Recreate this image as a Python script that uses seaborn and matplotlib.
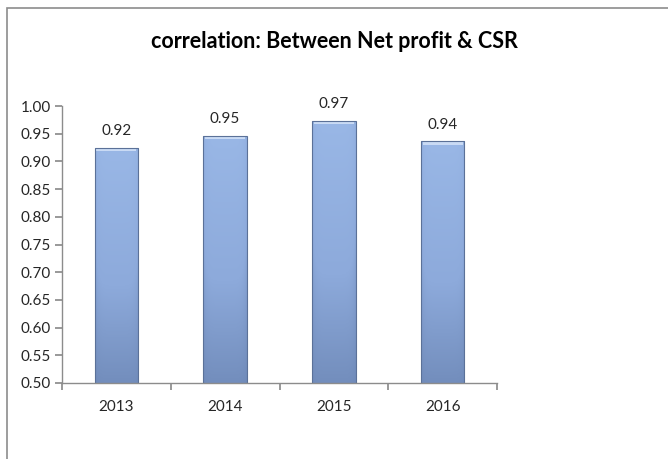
import numpy as np
import pandas as pd
import matplotlib
matplotlib.use("Agg")
import matplotlib.pyplot as plt
import matplotlib.ticker as mticker
from matplotlib.colors import LinearSegmentedColormap
from matplotlib.patches import Rectangle
import seaborn as sns

# data
years = ["2013", "2014", "2015", "2016"]
corr_values = [0.924, 0.946, 0.973, 0.936]

TITLE = "correlation: Between Net profit & CSR"
BAR_TOP = "#99B7E6"
BAR_MID = "#8DAADB"
BAR_BOTTOM = "#6882B0"
EDGE = "#5B7198"
AXIS_GRAY = "#8C8C8C"

sns.set_theme(style="white")
plt.rcParams["font.family"] = ["Lato", "DejaVu Sans"]

df = pd.DataFrame({"year": years, "corr": corr_values})

fig = plt.figure(figsize=(6.68, 4.59), dpi=100)
ax = fig.add_axes([62 / 668, 1 - 383 / 459, (497 - 62) / 668, (383 - 106) / 459])

sns.barplot(data=df, x="year", y="corr", color=BAR_TOP, width=0.4,
            edgecolor=EDGE, linewidth=0.8, ax=ax)

# excel-ish gradient fill on each bar
grad = LinearSegmentedColormap.from_list("bar", [BAR_BOTTOM, BAR_MID, BAR_TOP])
for p in ax.patches:
    x0, y0 = p.get_x(), p.get_y()
    w, h = p.get_width(), p.get_height()
    vert = np.linspace(0, 1, 200).reshape(-1, 1)
    horiz = 1 - 0.25 * (np.abs(np.linspace(-1, 1, 50)) ** 6)
    img = vert * 0.85 * horiz + 0.15 * horiz
    im = ax.imshow(img, cmap=grad, vmin=0, vmax=1, origin="lower",
                   extent=(x0, x0 + w, 0.5, y0 + h), aspect="auto", zorder=p.get_zorder())
    im.set_clip_path(p)
    # light bevel at the top
    ax.add_patch(Rectangle((x0 + w * 0.04, y0 + h - 0.006), w * 0.92, 0.005,
                           facecolor="#C9DAF4", edgecolor="none", zorder=p.get_zorder() + 0.1))
    p.set_facecolor("none")
    p.set_zorder(p.get_zorder() + 0.2)

for i, v in enumerate(corr_values):
    ax.annotate(f"{v:.2f}", (i, v), xytext=(0, 7), textcoords="offset points",
                ha="center", va="bottom", fontsize=11, color="#262626")

ax.set_xlim(-0.5, len(years) - 0.5)
ax.set_ylim(0.5, 1.0)
ax.yaxis.set_major_locator(mticker.MultipleLocator(0.05))
ax.yaxis.set_major_formatter(mticker.FormatStrFormatter("%.2f"))

# category labels in the middle, tick marks on the boundaries
ax.set_xticks(np.arange(-0.5, len(years), 1.0))
ax.set_xticklabels([])
ax.set_xticks(range(len(years)), minor=True)
ax.set_xticklabels(years, minor=True)
ax.tick_params(axis="x", which="major", length=5, color=AXIS_GRAY, direction="out", bottom=True)
ax.tick_params(axis="x", which="minor", length=0, pad=12, labelsize=11, labelcolor="#262626")
ax.tick_params(axis="y", length=5, color=AXIS_GRAY, direction="out", left=True,
               labelsize=11, labelcolor="#262626", pad=3)

ax.set_xlabel("")
ax.set_ylabel("")
for s in ["top", "right"]:
    ax.spines[s].set_visible(False)
for s in ["left", "bottom"]:
    ax.spines[s].set_color(AXIS_GRAY)
    ax.spines[s].set_linewidth(1.0)

fig.text(0.5, 1 - 42 / 459, TITLE, ha="center", va="center",
         fontsize=15.5, fontweight="bold", color="black")

# chart area border (runs off the right and bottom of the picture)
fig.patches.append(Rectangle((7 / 668, -0.1), 2, 1 - 8 / 459 + 0.1, transform=fig.transFigure,
                             fill=False, edgecolor=AXIS_GRAY, linewidth=1.2))

fig.savefig("out.png", dpi=100)
